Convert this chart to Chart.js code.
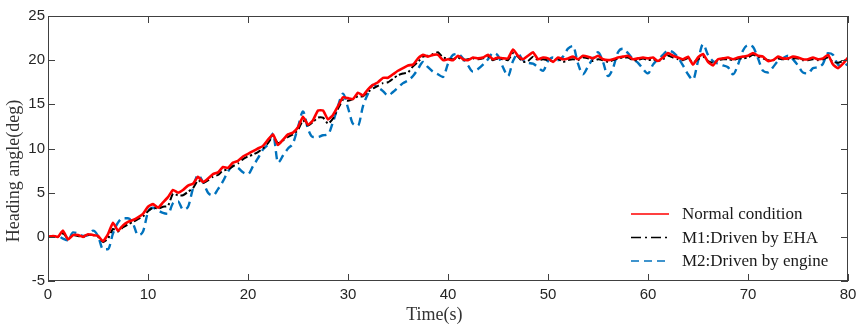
<!DOCTYPE html>
<html>
<head>
<meta charset="utf-8">
<script src="https://cdn.jsdelivr.net/npm/chart.js@4.4.1/dist/chart.umd.min.js"></script>
<style>
  html, body { margin: 0; padding: 0; background: #fff; }
  #wrap { width: 868px; height: 329px; }
</style>
</head>
<body>
<div id="wrap"><canvas id="headingChart" width="868" height="329"></canvas></div>
<script>
// sample times (s)
const times = [
  0,0.5,1,1.5,2,2.5,3,3.5,4,4.5,5,5.5,6,6.5,7,7.5,8,8.5,9,9.5,
  10,10.5,11,11.5,12,12.5,13,13.5,14,14.5,15,15.5,16,16.5,17,17.5,18,18.5,19,19.5,
  20,20.5,21,21.5,22,22.5,23,23.5,24,24.5,25,25.5,26,26.5,27,27.5,28,28.5,29,29.5,
  30,30.5,31,31.5,32,32.5,33,33.5,34,34.5,35,35.5,36,36.5,37,37.5,38,38.5,39,39.5,
  40,40.5,41,41.5,42,42.5,43,43.5,44,44.5,45,45.5,46,46.5,47,47.5,48,48.5,49,49.5,
  50,50.5,51,51.5,52,52.5,53,53.5,54,54.5,55,55.5,56,56.5,57,57.5,58,58.5,59,59.5,
  60,60.5,61,61.5,62,62.5,63,63.5,64,64.5,65,65.5,66,66.5,67,67.5,68,68.5,69,69.5,
  70,70.5,71,71.5,72,72.5,73,73.5,74,74.5,75,75.5,76,76.5,77,77.5,78,78.5,79,79.5,
  80
];

// heading angle (deg)
const normalCond = [
  0,0.1,0,0.7,-0.3,0.2,0.2,0,0.3,0.2,0.1,-0.5,0.3,1.6,0.7,1.3,1.7,1.9,2.2,2.6,
  3.4,3.7,3.3,3.9,4.5,5.3,5.0,5.3,5.8,6.0,6.8,6.2,6.6,7.1,7.3,7.9,7.8,8.4,8.6,9.1,
  9.4,9.7,10.0,10.3,11.0,11.6,10.4,11.0,11.6,11.8,12.4,13.6,12.7,13.2,14.3,14.3,13.3,13.8,14.8,15.8,
  15.7,15.6,16.3,16.0,16.7,17.2,17.5,18.0,18.0,18.4,18.8,19.1,19.4,19.5,20.2,20.6,20.4,20.6,20.6,20.0,
  20.1,20.0,20.5,20.1,20.0,20.3,20.2,20.3,20.6,20.1,20.3,20.2,20.2,21.2,20.5,20.1,20.5,20.9,20.1,20.3,
  20.2,19.8,20.3,20.1,20.2,20.4,20.1,20.5,20.4,20.2,20.5,20.1,20.0,20.1,20.3,20.4,20.5,20.1,20.2,20.3,
  20.2,20.3,19.9,20.3,20.8,20.5,20.3,20.1,20.4,19.5,20.3,20.7,19.8,19.4,20.1,20.2,20.3,20.1,20.3,20.4,
  20.5,20.8,20.5,20.4,19.9,20.0,20.4,20.2,20.2,20.4,20.3,20.1,20.1,20.3,20.1,20.2,20.6,19.5,19.1,19.6,
  20.3
];

const m1Eha = [
  0,0.1,0,0.4,-0.2,0.2,0.1,0,0.2,0.2,0,-0.6,-0.2,0.9,0.6,1.1,1.4,1.7,2.0,2.3,
  2.9,3.3,3.2,3.4,3.5,4.9,4.7,4.7,5.1,5.5,6.4,6.1,6.4,6.8,7.0,7.5,7.6,8.0,8.3,8.8,
  9.1,9.3,9.6,10.0,10.6,11.4,10.6,10.9,11.3,11.6,12.1,13.2,12.6,13.0,13.5,13.5,12.8,13.4,14.5,15.5,
  15.4,15.6,15.9,15.9,16.4,16.8,17.1,17.4,17.5,17.9,18.3,18.5,18.6,19.3,19.8,20.4,20.5,20.7,20.9,20.3,
  20.2,20.1,20.3,20.0,20.1,20.2,20.1,20.2,20.4,20.0,20.2,20.1,20.0,20.8,20.4,19.8,19.9,20.4,20.0,20.1,
  20.0,19.9,20.2,19.8,20.0,20.1,20.0,20.3,20.2,19.9,20.1,20.0,19.8,20.0,20.2,20.3,20.3,20.0,20.0,20.2,
  20.0,20.1,19.9,20.1,20.5,20.3,20.1,20.0,20.2,19.7,20.1,20.4,19.9,19.7,20.0,20.1,20.1,20.0,20.2,20.2,
  20.3,20.6,20.4,20.2,20.0,20.0,20.2,20.1,20.1,20.2,20.2,20.0,20.0,20.1,20.0,20.1,20.3,19.8,19.7,19.9,
  20.1
];

const m2Engine = [
  0,0,0.1,-0.2,-0.4,0.5,0.4,0.1,0.2,0.7,0.1,-1.4,-1.4,0.4,1.6,2.1,2.1,1.5,0.2,0.6,
  2.8,3.3,3.0,2.7,2.6,3.8,4.0,3.1,3.4,5.5,7.0,6.2,5.0,4.7,5.4,6.3,7.4,8.0,7.8,7.3,
  7.1,8.0,8.9,9.9,10.5,11.7,8.4,9.2,10.0,10.6,12.4,14.2,12.2,11.3,11.3,11.5,11.6,13.0,14.8,16.2,
  14.6,12.8,12.6,14.8,16.2,17.2,16.9,16.5,16.0,16.4,16.9,17.4,17.7,18.2,19.0,19.8,19.2,18.7,18.4,18.1,
  19.6,20.6,20.7,20.2,19.4,18.7,19.0,19.5,20.1,20.8,20.5,19.2,18.2,19.9,20.7,20.0,19.7,19.6,19.2,18.8,
  19.9,20.3,20.0,20.4,21.3,21.6,19.6,18.4,19.3,20.2,20.9,19.8,18.2,19.1,20.9,21.3,20.8,20.1,19.7,19.0,
  18.5,19.5,20.1,20.6,21.1,20.9,20.3,19.4,18.4,17.8,19.9,21.8,20.6,19.9,19.6,19.4,19.2,18.4,19.5,21.1,
  21.7,21.5,20.2,18.8,18.6,19.2,19.9,20.2,20.5,20.1,19.4,18.6,18.5,19.1,19.2,19.6,20.8,20.6,19.5,19.3,
  19.6
];

const seriesNames = ["Normal condition", "M1:Driven by EHA", "M2:Driven by engine"];
const xTicks = [0, 10, 20, 30, 40, 50, 60, 70, 80];
const yTicks = [-5, 0, 5, 10, 15, 20, 25];

const axisColor = "#404040";
const labelColor = "#262626";

function toPoints(ys) {
    return times.map((t, i) => ({ x: t, y: ys[i] }));
}

// box round the plot, with ticks pointing in on all four sides
const framePlugin = {
    id: "frame",
    afterDatasetsDraw(chart) {
        const { ctx, chartArea: a, scales } = chart;
        const tl = 7;
        ctx.save();
        ctx.strokeStyle = axisColor;
        ctx.lineWidth = 1;
        ctx.strokeRect(a.left + 0.5, a.top + 0.5, a.right - a.left - 1, a.bottom - a.top - 1);
        ctx.beginPath();
        xTicks.forEach(v => {
            const px = Math.round(scales.x.getPixelForValue(v)) + 0.5;
            ctx.moveTo(px, a.bottom); ctx.lineTo(px, a.bottom - tl);
            ctx.moveTo(px, a.top); ctx.lineTo(px, a.top + tl);
        });
        yTicks.forEach(v => {
            const py = Math.round(scales.y.getPixelForValue(v)) + 0.5;
            ctx.moveTo(a.left, py); ctx.lineTo(a.left + tl, py);
            ctx.moveTo(a.right, py); ctx.lineTo(a.right - tl, py);
        });
        ctx.stroke();

        // axis titles
        ctx.fillStyle = "#333";
        ctx.font = "18px 'Liberation Serif', 'Times New Roman', serif";
        ctx.textAlign = "center";
        ctx.textBaseline = "middle";
        ctx.fillText("Time(s)", a.left + (a.right - a.left) * 0.483, 315);
        ctx.translate(14, a.top + (a.bottom - a.top) * 0.585);
        ctx.rotate(-Math.PI / 2);
        ctx.fillText("Heading angle(deg)", 0, 0);
        ctx.restore();
    }
};

// legend inside the lower right corner, no box
const legendPlugin = {
    id: "innerLegend",
    afterDatasetsDraw(chart) {
        const { ctx, chartArea: a } = chart;
        const x0 = a.right - 217;
        const y0 = a.bottom - 67;
        const rowH = 23.5;
        ctx.save();
        ctx.font = "17px 'Liberation Serif', 'Times New Roman', serif";
        ctx.textBaseline = "middle";
        ctx.textAlign = "left";
        chart.data.datasets.forEach((ds, i) => {
            const y = y0 + i * rowH;
            ctx.strokeStyle = ds.borderColor;
            ctx.lineWidth = 1.5;
            ctx.setLineDash(ds.legendDash);
            ctx.beginPath();
            ctx.moveTo(x0, y);
            ctx.lineTo(x0 + 38, y);
            ctx.stroke();
            ctx.setLineDash([]);
            ctx.fillStyle = "#1a1a1a";
            ctx.fillText(ds.label, x0 + 51, y + 1);
        });
        ctx.restore();
    }
};

const ctx = document.getElementById("headingChart").getContext("2d");
const headingChart = new Chart(ctx, {
    type: "line",
    data: {
        datasets: [
            {
                label: seriesNames[0],
                data: toPoints(normalCond),
                borderColor: "#ff0000",
                borderWidth: 2.6,
                borderDash: [],
                legendDash: [],
                pointRadius: 0,
                tension: 0.15
            },
            {
                label: seriesNames[1],
                data: toPoints(m1Eha),
                borderColor: "#000000",
                borderWidth: 2,
                borderDash: [7, 3, 2, 3],
                legendDash: [10, 4, 2, 4],
                pointRadius: 0,
                tension: 0.15
            },
            {
                label: seriesNames[2],
                data: toPoints(m2Engine),
                borderColor: "#0072bd",
                borderWidth: 2.4,
                borderDash: [8, 5],
                legendDash: [8, 5],
                pointRadius: 0,
                cubicInterpolationMode: "monotone"
            }
        ]
    },
    options: {
        responsive: false,
        maintainAspectRatio: false,
        animation: false,
        devicePixelRatio: 1,
        layout: { padding: { left: 0, top: 16, right: 20, bottom: 0 } },
        plugins: {
            legend: { display: false },
            tooltip: { enabled: false }
        },
        scales: {
            x: {
                type: "linear",
                min: 0,
                max: 80,
                afterBuildTicks: s => { s.ticks = xTicks.map(v => ({ value: v })); },
                grid: { display: false, drawTicks: false },
                border: { display: false },
                ticks: {
                    color: labelColor,
                    padding: 5,
                    maxRotation: 0,
                    font: { family: "'Liberation Sans', Arial, sans-serif", size: 15 }
                },
                afterFit: s => { s.height = 48; }
            },
            y: {
                type: "linear",
                min: -5,
                max: 25,
                afterBuildTicks: s => { s.ticks = yTicks.map(v => ({ value: v })); },
                grid: { display: false, drawTicks: false },
                border: { display: false },
                ticks: {
                    color: labelColor,
                    padding: 3,
                    font: { family: "'Liberation Sans', Arial, sans-serif", size: 15 }
                },
                afterFit: s => { s.width = 48; }
            }
        }
    },
    plugins: [framePlugin, legendPlugin]
});
</script>
</body>
</html>
